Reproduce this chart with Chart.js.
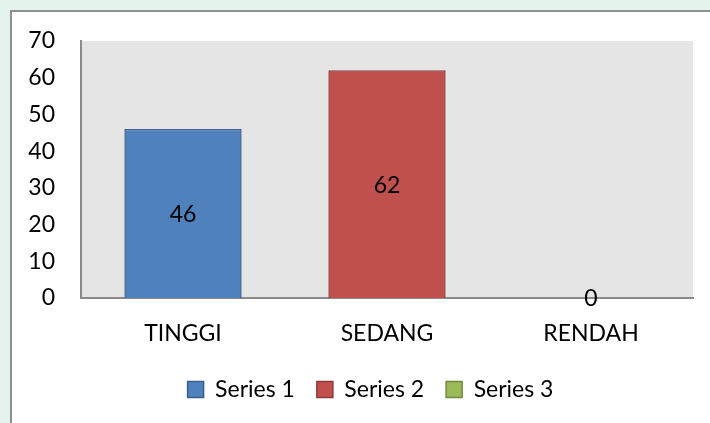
<!DOCTYPE html>
<html>
<head>
<meta charset="utf-8">
<title>Chart</title>
<script src="https://cdn.jsdelivr.net/npm/chart.js@4.4.1/dist/chart.umd.min.js"></script>
<style>
  html, body { margin: 0; padding: 0; }
  body { width: 710px; height: 423px; background: #e4f3ec; position: relative; overflow: hidden; }
  #frame { position: absolute; left: 10px; top: 10px; width: 720px; height: 430px; background: #fff;
           border-left: 2px solid #8f8f8f; border-top: 2px solid #8f8f8f; }
  #wrap { position: absolute; left: 0; top: 0; width: 710px; height: 423px; }
</style>
</head>
<body>
<div id="frame"></div>
<div id="wrap"><canvas id="chart" width="710" height="423"></canvas></div>
<script>
// categories and values
const categories = ['TINGGI', 'SEDANG', 'RENDAH'];
const seriesNames = ['Series 1', 'Series 2', 'Series 3'];
const series1 = [46, null, null];
const series2 = [null, 62, null];
const series3 = [null, null, 0];
const yMax = 70;
const yStep = 10;

const fills = ['#4f81bd', '#c0504d', '#9bbb59'];
const edges = ['#3a5f8c', '#8c3a38', '#71893f'];

Chart.defaults.font.family = 'Lato, "Open Sans", sans-serif';
Chart.defaults.font.size = 23;
Chart.defaults.color = '#000';

// grey plot area behind the bars
const plotBackground = {
    id: 'plotBackground',
    beforeDraw(chart) {
        const { ctx, chartArea: a } = chart;
        ctx.save();
        ctx.fillStyle = '#e5e5e5';
        ctx.fillRect(a.left, a.top, a.right - a.left, a.bottom - a.top);
        ctx.restore();
    }
};

// legend in the original is centred a bit right of the canvas middle
const legendShift = {
    id: 'legendShift',
    afterLayout(chart) {
        if (!chart.legend) return;
        chart.legend.left += 24;
        chart.legend.right += 24;
    }
};

// value written in the middle of each bar
const barLabels = {
    id: 'barLabels',
    afterDatasetsDraw(chart) {
        const ctx = chart.ctx;
        ctx.save();
        ctx.font = '23px ' + Chart.defaults.font.family;
        ctx.fillStyle = '#000';
        ctx.textAlign = 'center';
        ctx.textBaseline = 'middle';
        chart.data.datasets.forEach((ds, i) => {
            chart.getDatasetMeta(i).data.forEach((bar, j) => {
                if (ds.data[j] === null) return;
                const y = (bar.y + bar.base) / 2;
                ctx.fillText(String(ds.data[j]), bar.x, y + 1);
            });
        });
        ctx.restore();
    }
};

const datasets = [series1, series2, series3].map((values, i) => ({
    label: seriesNames[i],
    data: values,
    backgroundColor: fills[i],
    borderColor: edges[i],
    borderWidth: 1.5,
    barPercentage: 0.575,
    categoryPercentage: 1
}));

new Chart(document.getElementById('chart'), {
    type: 'bar',
    data: { labels: categories, datasets: datasets },
    options: {
        responsive: false,
        animation: false,
        layout: { padding: { left: 0, right: 17, top: 41, bottom: 12 } },
        plugins: {
            tooltip: { enabled: false },
            legend: {
                position: 'bottom',
                labels: { boxWidth: 16, boxHeight: 16, padding: 22, color: '#000' }
            }
        },
        scales: {
            x: {
                stacked: true,
                grid: { display: false },
                border: { color: '#8a8a8a', width: 2 },
                ticks: { padding: 14, color: '#000' },
                afterFit(scale) { scale.height = 58; }
            },
            y: {
                stacked: true,
                min: 0,
                max: yMax,
                grid: { display: false },
                border: { color: '#8a8a8a', width: 2 },
                ticks: { stepSize: yStep, padding: 18, color: '#000' },
                afterFit(scale) { scale.width = 81; }
            }
        }
    },
    plugins: [plotBackground, legendShift, barLabels]
});
</script>
</body>
</html>
